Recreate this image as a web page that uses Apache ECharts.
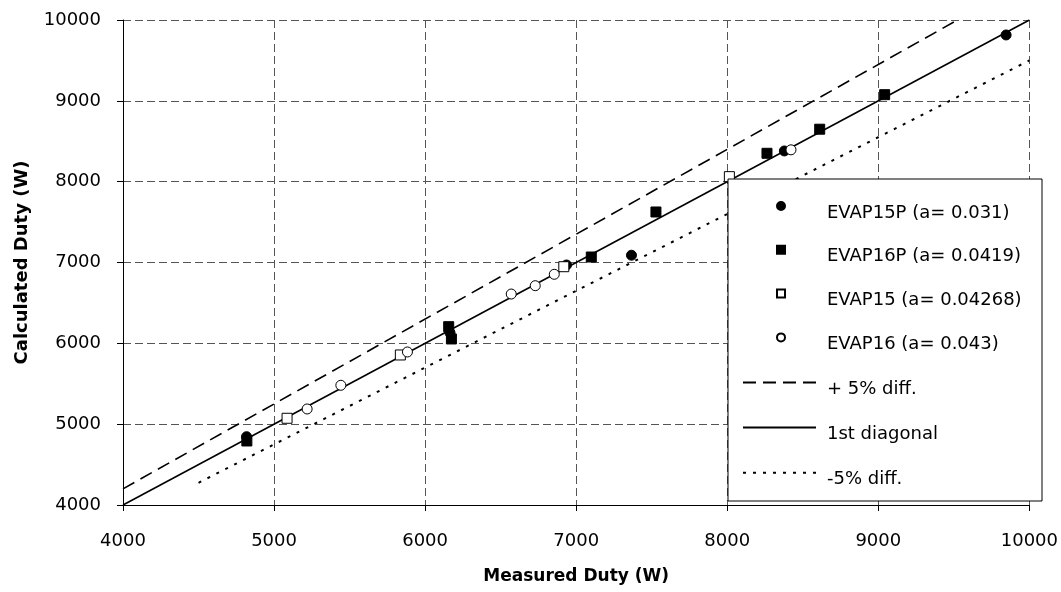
<!DOCTYPE html>
<html><head><meta charset="utf-8">
<script src="https://cdn.jsdelivr.net/npm/echarts@6/dist/echarts.min.js"></script>
<style>html,body{margin:0;padding:0;background:#fff}#c{width:1061px;height:592px}</style>
</head><body><div id="c"></div>
<script>
// Measured duty (x, W) vs calculated duty (y, W)
const evap15P = [[4818,4845],[6165,6130],[6936,6969],[7366,7090],[8378,8380],[9846,9815]];
const evap16P = [[4820,4792],[6156,6206],[6174,6054],[7100,7068],[7528,7625],[8263,8351],[8612,8649],[9042,9076]];
const evap15  = [[5086,5073],[5836,5856],[6918,6948],[8014,8062]];
const evap16  = [[5219,5188],[5442,5481],[5883,5893],[6570,6610],[6729,6713],[6855,6854],[8422,8394]];
const plus5Line   = [[4000,4200],[9524,10000]];
const diagonalLine = [[4000,4000],[10000,10000]];
const minus5Line  = [[4500,4275],[10000,9500]];
const scatterNames = ['EVAP15P (a= 0.031)','EVAP16P (a= 0.0419)','EVAP15 (a= 0.04268)','EVAP16 (a= 0.043)'];
const lineNames = ['+ 5% diff.','1st diagonal','-5% diff.'];
const axisMin = 4000, axisMax = 10000, axisStep = 1000;
const xTitle = 'Measured Duty (W)', yTitle = 'Calculated Duty (W)';

const FONT = 'DejaVu Sans';
const chart = echarts.init(document.getElementById('c'), null, {renderer:'canvas'});

function axis(name, gap, margin, titleSize){
  return {
    type:'value', min:axisMin, max:axisMax, interval:axisStep,
    name:name, nameLocation:'middle', nameGap:gap,
    nameTextStyle:{fontFamily:FONT,fontSize:titleSize,fontWeight:'bold',color:'#000',lineHeight:20},
    axisLine:{show:true,onZero:false,lineStyle:{color:'#000',width:1}},
    axisTick:{show:true,inside:false,length:6,lineStyle:{color:'#000',width:1}},
    axisLabel:{margin:margin,fontFamily:FONT,fontSize:18,color:'#000',lineHeight:20,
      formatter:v => String(v)},
    splitLine:{show:true,lineStyle:{color:'#555',width:1,type:[8,4]}}
  };
}
const txt = (padTop, padLeft) => ({padding:[padTop,0,0,padLeft],
  rich:{t:{fontFamily:FONT,fontSize:18,color:'#000',lineHeight:20}}});

function scatter(name, data, symbol, fill){
  return {type:'scatter', name:name, data:data, symbol:symbol, symbolSize:10, z:3,
    itemStyle:{color:fill, borderColor:'#000', borderWidth:1, opacity:1},
    emphasis:{disabled:true}, silent:true};
}
function line(name, data, type, width){
  return {type:'line', name:name, data:data, symbol:'none', z:2,
    lineStyle:{color:'#000', width:width, type:type},
    itemStyle:{color:'#000'},
    emphasis:{disabled:true}, silent:true, animation:false};
}

chart.setOption({
  animation:false,
  backgroundColor:'#fff',
  grid:{left:123,right:30,top:20,bottom:87,containLabel:false},
  xAxis:axis(xTitle,62,26,17),
  yAxis:axis(yTitle,91,22,18),
  graphic:[{type:'rect', z:5, shape:{x:728,y:179,width:314,height:322},
    style:{fill:'#fff',stroke:'#000',lineWidth:1}}],
  legend:[
    {data:scatterNames, orient:'vertical', left:776, top:201, padding:0, itemGap:22.8,
     itemWidth:8, itemHeight:8, selectedMode:false, z:6, formatter:'{t|{name}}', textStyle:txt(14,37)},
    {data:lineNames, orient:'vertical', left:742, top:378.5, padding:0, itemGap:25.6,
     itemWidth:73, itemHeight:10, selectedMode:false, z:6, formatter:'{t|{name}}', textStyle:txt(13,6),
     itemStyle:{color:'rgba(0,0,0,0)',borderColor:'rgba(0,0,0,0)',borderWidth:0,opacity:0}}
  ],
  series:[
    line(lineNames[0], plus5Line, [13,7], 1.6),
    line(lineNames[1], diagonalLine, 'solid', 1.6),
    line(lineNames[2], minus5Line, [3,7], 2),
    scatter(scatterNames[0], evap15P, 'circle', '#000'),
    scatter(scatterNames[1], evap16P, 'rect', '#000'),
    scatter(scatterNames[2], evap15, 'rect', '#fff'),
    scatter(scatterNames[3], evap16, 'circle', '#fff')
  ]
});
</script></body></html>
